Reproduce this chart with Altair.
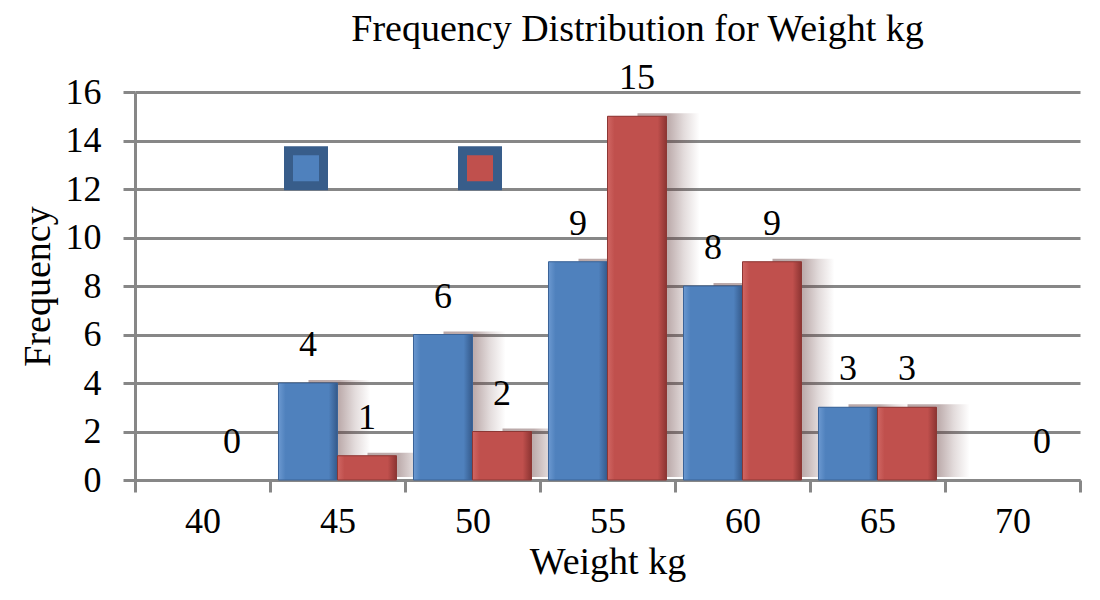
import altair as alt
import pandas as pd

# ---- data ----
weights = ["40", "45", "50", "55", "60", "65", "70"]
series_a = [None, 4, 6, 9, 8, 3, None]   # blue
series_b = [0, 1, 2, 15, 9, 3, 0]        # red
series_names = ["Series1", "Series2"]
series_colors = ["#4F81BD", "#C0504D"]
y_ticks = [0, 2, 4, 6, 8, 10, 12, 14, 16]

rows = []
for w, a, b in zip(weights, series_a, series_b):
    if a is not None:
        rows.append({"weight": w, "series": series_names[0], "freq": a})
    if b is not None:
        rows.append({"weight": w, "series": series_names[1], "freq": b})
df = pd.DataFrame(rows)

FONT = "Liberation Serif"
GRID = "#878787"

x_enc = alt.X(
    "weight:N", sort=weights,
    scale=alt.Scale(paddingInner=0, paddingOuter=0),
    axis=alt.Axis(
        title="Weight kg", labelAngle=0, tickBand="extent",
        labelFont=FONT, labelFontSize=36, labelColor="black", labelPadding=12,
        titleFont=FONT, titleFontSize=38, titleFontWeight="normal", titleColor="black",
        titlePadding=4,
        tickColor=GRID, tickWidth=3, tickSize=12,
        domainColor=GRID, domainWidth=3, grid=False,
    ),
)
xoff_enc = alt.XOffset(
    "series:N", sort=series_names,
    scale=alt.Scale(paddingOuter=0.144, paddingInner=0),
)
y_enc = alt.Y(
    "freq:Q",
    scale=alt.Scale(domain=[0, 16], nice=False),
    axis=alt.Axis(
        title="Frequency", values=y_ticks,
        labelFont=FONT, labelFontSize=36, labelColor="black", labelPadding=22,
        titleFont=FONT, titleFontSize=38, titleFontWeight="normal", titleColor="black",
        titlePadding=8,
        grid=True, gridColor=GRID, gridWidth=3, gridOpacity=1,
        tickColor=GRID, tickWidth=3, tickSize=12,
        domainColor=GRID, domainWidth=3,
    ),
)

base = alt.Chart(df)
nonzero = base.transform_filter(alt.datum.freq > 0)

SHADOW = alt.LinearGradient(
    gradient="linear", x1=0, x2=1, y1=0, y2=0,
    stops=[
        alt.GradientStop(offset=0, color="rgba(100,60,60,0.45)"),
        alt.GradientStop(offset=0.5, color="rgba(100,60,60,0.42)"),
        alt.GradientStop(offset=0.75, color="rgba(100,60,60,0.18)"),
        alt.GradientStop(offset=1, color="rgba(100,60,60,0)"),
    ],
)

shadow_blue = nonzero.transform_filter(alt.datum.series == series_names[0]).mark_bar(
    width=62, xOffset=2, yOffset=-3, fill=SHADOW
).encode(x=x_enc, y=y_enc)
shadow_red = nonzero.transform_filter(alt.datum.series == series_names[1]).mark_bar(
    width=62, xOffset=61, yOffset=-3, fill=SHADOW
).encode(x=x_enc, y=y_enc)

bars = base.mark_bar().encode(
    x=x_enc, xOffset=xoff_enc, y=y_enc,
    color=alt.Color(
        "series:N", sort=series_names,
        scale=alt.Scale(domain=series_names, range=series_colors),
        legend=alt.Legend(
            orient="none", legendX=149, legendY=54, direction="horizontal",
            title=None, labelExpr="''", labelOffset=0, padding=0,
            symbolType="square", symbolSize=1225, symbolStrokeColor="#385D8A",
            symbolStrokeWidth=9, symbolOpacity=1, columnPadding=102,
        ),
    ),
)


def grad(light, mid, dark):
    return alt.LinearGradient(
        gradient="linear", x1=0, x2=1, y1=0, y2=0,
        stops=[
            alt.GradientStop(offset=0, color=light),
            alt.GradientStop(offset=0.12, color=mid),
            alt.GradientStop(offset=0.85, color=mid),
            alt.GradientStop(offset=1, color=dark),
        ],
    )


blue_shade = nonzero.transform_filter(alt.datum.series == series_names[0]).mark_bar(
    fill=grad("#6B98D0", "#4F81BD", "#34598A"), stroke="#3A6397", strokeWidth=1
).encode(x=x_enc, xOffset=xoff_enc, y=y_enc)

red_shade = nonzero.transform_filter(alt.datum.series == series_names[1]).mark_bar(
    fill=grad("#D06663", "#C0504D", "#8C3432"), stroke="#8C3734", strokeWidth=1
).encode(x=x_enc, xOffset=xoff_enc, y=y_enc)

labels = base.mark_text(
    dy=-27, baseline="alphabetic", align="center",
    font=FONT, fontSize=36, color="black",
).encode(x=x_enc, xOffset=xoff_enc, y=y_enc, text="freq:Q")

chart = alt.layer(shadow_blue, shadow_red, bars, blue_shade, red_shade, labels).properties(
    width=945, height=388,
    title=alt.TitleParams(
        "Frequency Distribution for Weight kg", font=FONT, fontSize=38,
        fontWeight="normal", color="black", anchor="middle", dx=30, offset=11,
    ),
    autosize=alt.AutoSizeParams(type="none"),
    padding={"left": 127, "top": 84, "right": 12, "bottom": 112},
).configure_view(stroke=None)

chart.save("out.html", embed_options={"renderer": "svg", "actions": False})
